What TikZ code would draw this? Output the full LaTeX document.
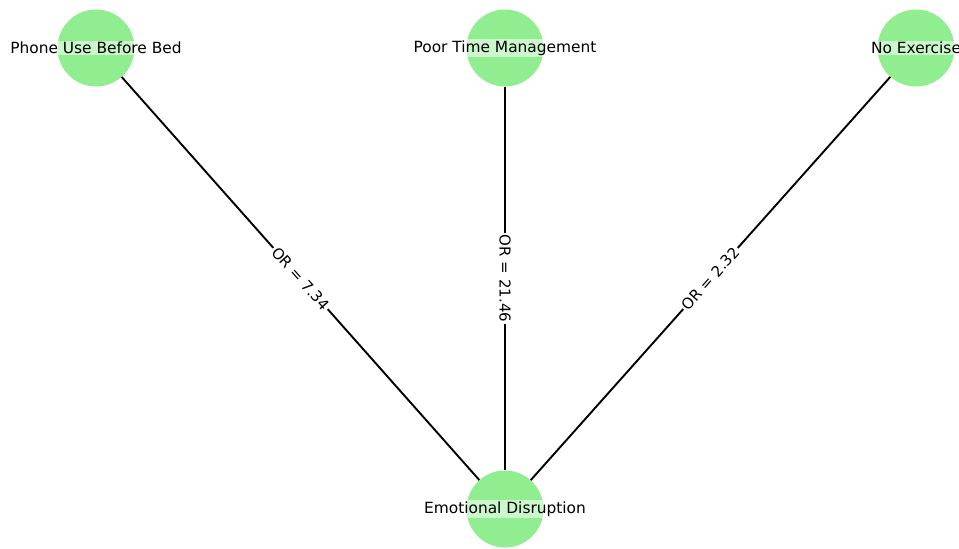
\documentclass[tikz,border=0pt]{standalone}
\usepackage{fontspec}
\setmainfont{DejaVu Sans}
\usetikzlibrary{calc}
\definecolor{nodeG}{RGB}{144,238,144}

\begin{document}
\begin{tikzpicture}[x=1pt,y=-1pt,
  factor/.style={circle,fill=nodeG,minimum size=77pt,inner sep=0pt},
  factxt/.style={font=\fontsize{15.4}{18}\selectfont,fill=white,fill opacity=0.55,text opacity=1,inner sep=1.5pt},
  link/.style={line width=1.9pt,black},
  orval/.style={font=\fontsize{15}{18}\selectfont,fill=white,inner sep=2pt,sloped}]
\useasboundingbox (0,0) rectangle (959,549);
% factors
\node[factor] (phone) at (96,48) {};
\node[factor] (time) at (505,48) {};
\node[factor] (exer) at (916,48) {};
\node[factor] (emo) at (505,509) {};
% links with odds ratios
\draw[link] (phone) -- node[orval] (or1) {OR = 7.34} (emo);
\draw[link] (time) -- node[orval] (or2) {OR = 21.46} (emo);
\draw[link] (exer) -- node[orval] (or3) {OR = 2.32} (emo);
% names
\node[factxt] (tphone) at (phone) {Phone Use Before Bed};
\node[factxt] (ttime) at (time) {Poor Time Management};
\node[factxt] (texer) at (exer) {No Exercise};
\node[factxt] (temo) at (emo) {Emotional Disruption};
\end{tikzpicture}
\end{document}
